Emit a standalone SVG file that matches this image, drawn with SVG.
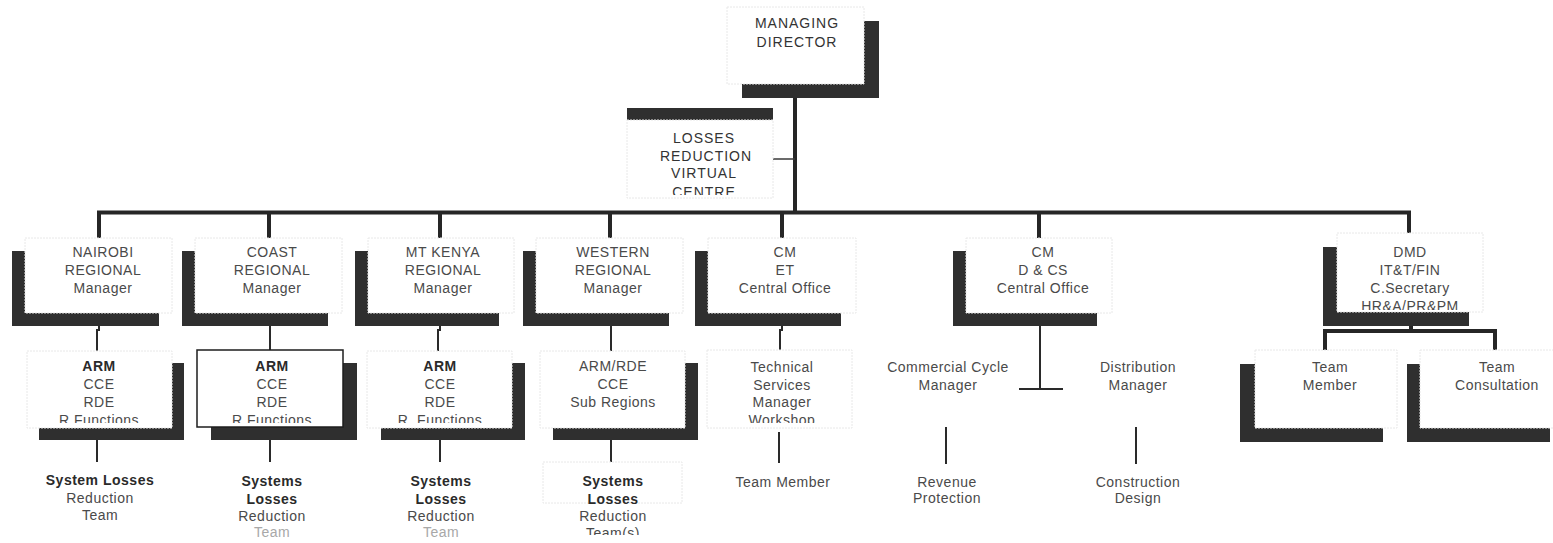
<svg xmlns="http://www.w3.org/2000/svg" width="1553" height="543" viewBox="0 0 1553 543">
  <defs>
    <style>
      .sh { fill: #2f2f2f; }
      .bx { fill: #ffffff; stroke: #e8e8e8; stroke-width: 1; stroke-dasharray: 2 1; }
      .bxs { fill: #ffffff; stroke: #1e1e1e; stroke-width: 1.5; }
      .t { font-family: "Liberation Sans", Arial, sans-serif; font-size: 14px; fill: #4a4a4a; text-anchor: middle; letter-spacing: 0.5px; }
      .tc { font-family: "Liberation Sans", Arial, sans-serif; font-size: 14px; fill: #333333; text-anchor: middle; letter-spacing: 1px; }
      .b { font-weight: bold; fill: #2a2a2a; }
      .fade { fill: #a8a8a8; }
      .thick { stroke: #262626; stroke-width: 4; fill: none; }
      .thin { stroke: #2a2a2a; stroke-width: 2; fill: none; }
      .hair { stroke: #3a3a3a; stroke-width: 1.5; fill: none; }
    </style>
    <clipPath id="clipLrvc"><rect x="600" y="100" width="200" height="95"/></clipPath>
    <clipPath id="clipLvl2"><rect x="0" y="340" width="1553" height="83"/></clipPath>
    <clipPath id="clipDmd"><rect x="1300" y="230" width="253" height="80"/></clipPath>
    <clipPath id="clipLvl3"><rect x="0" y="450" width="1553" height="85"/></clipPath>
  </defs>

  <rect width="1553" height="543" fill="#ffffff"/>

  <!-- connectors -->
  <g id="connectors">
    <!-- managing director trunk and main bus -->
    <line class="thick" x1="795" y1="97" x2="795" y2="214"/>
    <line class="hair" x1="773" y1="159" x2="795" y2="159"/>
    <line class="thick" x1="97" y1="212.5" x2="1411" y2="212.5"/>
    <line class="thick" x1="99" y1="211" x2="99" y2="238"/>
    <line class="thick" x1="269" y1="211" x2="269" y2="238"/>
    <line class="thick" x1="440" y1="211" x2="440" y2="238"/>
    <line class="thick" x1="610" y1="211" x2="610" y2="238"/>
    <line class="thick" x1="782" y1="211" x2="782" y2="238"/>
    <line class="thick" x1="1039" y1="211" x2="1039" y2="238"/>
    <line class="thick" x1="1409" y1="211" x2="1409" y2="233"/>
    <!-- regional managers to area managers -->
    <path class="thin" d="M99 326 V330 H97 V351"/>
    <line class="thin" x1="270" y1="326" x2="270" y2="350"/>
    <path class="thin" d="M440 326 V330 H438 V351"/>
    <line class="thin" x1="611" y1="326" x2="611" y2="351"/>
    <path class="thin" d="M782 326 V330 H780 V350"/>
    <!-- D &amp; CS split -->
    <line class="thin" x1="1040" y1="326" x2="1040" y2="389"/>
    <line class="thin" x1="1019" y1="389" x2="1063" y2="389"/>
    <!-- DMD split -->
    <line class="thick" x1="1411" y1="325" x2="1411" y2="333"/>
    <line class="thick" x1="1323" y1="331" x2="1497" y2="331"/>
    <line class="thick" x1="1325" y1="329" x2="1325" y2="350"/>
    <line class="thick" x1="1495" y1="329" x2="1495" y2="350"/>
    <!-- to teams -->
    <line class="thin" x1="97" y1="440" x2="97" y2="462"/>
    <line class="thin" x1="270" y1="440" x2="270" y2="462"/>
    <line class="thin" x1="440" y1="440" x2="440" y2="462"/>
    <line class="thin" x1="611" y1="440" x2="611" y2="462"/>
    <line class="thin" x1="779" y1="432" x2="779" y2="463"/>
    <line class="thin" x1="946" y1="427" x2="946" y2="464"/>
    <line class="thin" x1="1136" y1="427" x2="1136" y2="464"/>
  </g>

  <!-- top level -->
  <g id="managing-director">
    <rect class="sh" x="742" y="21" width="137" height="77"/>
    <rect class="bx" x="727" y="7" width="137" height="77"/>
    <text class="tc" x="797" y="28">MANAGING</text>
    <text class="tc" x="797" y="47">DIRECTOR</text>
  </g>

  <g id="losses-reduction-virtual-centre">
    <rect class="sh" x="627" y="108" width="146" height="78"/>
    <rect class="bx" x="627" y="120" width="146" height="78"/>
    <g clip-path="url(#clipLrvc)">
      <text class="tc" x="704" y="143">LOSSES</text>
      <text class="tc" x="706" y="161">REDUCTION</text>
      <text class="tc" x="704" y="178">VIRTUAL</text>
      <text class="tc" x="704" y="197">CENTRE</text>
    </g>
  </g>

  <!-- regional / central level -->
  <g id="nairobi-regional">
    <rect class="sh" x="12" y="251" width="147" height="75"/>
    <rect class="bx" x="25" y="238" width="147" height="75"/>
    <text class="t" x="103" y="257">NAIROBI</text>
    <text class="t" x="103" y="275">REGIONAL</text>
    <text class="t" x="103" y="293">Manager</text>
  </g>

  <g id="coast-regional">
    <rect class="sh" x="182" y="251" width="146" height="75"/>
    <rect class="bx" x="195" y="238" width="147" height="75"/>
    <text class="t" x="272" y="257">COAST</text>
    <text class="t" x="272" y="275">REGIONAL</text>
    <text class="t" x="272" y="293">Manager</text>
  </g>

  <g id="mt-kenya-regional">
    <rect class="sh" x="355" y="251" width="144" height="75"/>
    <rect class="bx" x="368" y="238" width="146" height="75"/>
    <text class="t" x="443" y="257">MT KENYA</text>
    <text class="t" x="443" y="275">REGIONAL</text>
    <text class="t" x="443" y="293">Manager</text>
  </g>

  <g id="western-regional">
    <rect class="sh" x="523" y="251" width="146" height="75"/>
    <rect class="bx" x="536" y="238" width="147" height="75"/>
    <text class="t" x="613" y="257">WESTERN</text>
    <text class="t" x="613" y="275">REGIONAL</text>
    <text class="t" x="613" y="293">Manager</text>
  </g>

  <g id="cm-et-central">
    <rect class="sh" x="695" y="251" width="146" height="75"/>
    <rect class="bx" x="708" y="238" width="148" height="75"/>
    <text class="t" x="785" y="257">CM</text>
    <text class="t" x="785" y="275">ET</text>
    <text class="t" x="785" y="293">Central Office</text>
  </g>

  <g id="cm-dcs-central">
    <rect class="sh" x="953" y="251" width="144" height="75"/>
    <rect class="bx" x="966" y="238" width="146" height="75"/>
    <text class="t" x="1043" y="257">CM</text>
    <text class="t" x="1043" y="275">D &amp; CS</text>
    <text class="t" x="1043" y="293">Central Office</text>
  </g>

  <g id="dmd">
    <rect class="sh" x="1323" y="247" width="146" height="79"/>
    <rect class="bx" x="1337" y="233" width="146" height="79"/>
    <g clip-path="url(#clipDmd)">
      <text class="t" x="1410" y="257">DMD</text>
      <text class="t" x="1410" y="275">IT&amp;T/FIN</text>
      <text class="t" x="1410" y="293">C.Secretary</text>
      <text class="t" x="1410" y="311">HR&amp;A/PR&amp;PM</text>
    </g>
  </g>

  <!-- area level -->
  <g id="nairobi-arm">
    <rect class="sh" x="39" y="363" width="145" height="77"/>
    <rect class="bx" x="27" y="351" width="145" height="77" stroke="none"/>
    <g clip-path="url(#clipLvl2)">
      <text class="t b" x="99" y="371">ARM</text>
      <text class="t" x="99" y="389">CCE</text>
      <text class="t" x="99" y="407">RDE</text>
      <text class="t" x="99" y="425">R Functions</text>
    </g>
  </g>

  <g id="coast-arm">
    <rect class="sh" x="211" y="363" width="146" height="77"/>
    <rect class="bxs" x="197" y="350" width="146" height="77"/>
    <g clip-path="url(#clipLvl2)">
      <text class="t b" x="272" y="371">ARM</text>
      <text class="t" x="272" y="389">CCE</text>
      <text class="t" x="272" y="407">RDE</text>
      <text class="t" x="272" y="425">R Functions</text>
    </g>
  </g>

  <g id="mt-kenya-arm">
    <rect class="sh" x="381" y="363" width="144" height="77"/>
    <rect class="bx" x="367" y="351" width="145" height="77"/>
    <g clip-path="url(#clipLvl2)">
      <text class="t b" x="440" y="371">ARM</text>
      <text class="t" x="440" y="389">CCE</text>
      <text class="t" x="440" y="407">RDE</text>
      <text class="t" x="440" y="425">R. Functions</text>
    </g>
  </g>

  <g id="western-arm">
    <rect class="sh" x="553" y="363" width="145" height="77"/>
    <rect class="bx" x="540" y="351" width="145" height="77"/>
    <text class="t" x="613" y="371">ARM/RDE</text>
    <text class="t" x="613" y="389">CCE</text>
    <text class="t" x="613" y="407">Sub Regions</text>
  </g>

  <g id="technical-services">
    <rect class="bx" x="707" y="350" width="145" height="78"/>
    <g clip-path="url(#clipLvl2)">
      <text class="t" x="782" y="372">Technical</text>
      <text class="t" x="782" y="390">Services</text>
      <text class="t" x="782" y="407">Manager</text>
      <text class="t" x="782" y="425">Workshop</text>
    </g>
  </g>

  <g id="commercial-cycle-manager">
    <text class="t" x="948" y="372">Commercial Cycle</text>
    <text class="t" x="948" y="390">Manager</text>
  </g>

  <g id="distribution-manager">
    <text class="t" x="1138" y="372">Distribution</text>
    <text class="t" x="1138" y="390">Manager</text>
  </g>

  <g id="team-member-dmd">
    <rect class="sh" x="1240" y="364" width="143" height="78"/>
    <rect class="bx" x="1255" y="350" width="142" height="78"/>
    <text class="t" x="1330" y="372">Team</text>
    <text class="t" x="1330" y="390">Member</text>
  </g>

  <g id="team-consultation">
    <rect class="sh" x="1407" y="364" width="143" height="78"/>
    <rect class="bx" x="1420" y="350" width="143" height="78"/>
    <text class="t" x="1497" y="372">Team</text>
    <text class="t" x="1497" y="390">Consultation</text>
  </g>

  <!-- team level -->
  <g id="nairobi-team">
    <text class="t b" x="100" y="485">System Losses</text>
    <text class="t" x="100" y="503">Reduction</text>
    <text class="t" x="100" y="520">Team</text>
  </g>

  <g id="coast-team">
    <text class="t b" x="272" y="486">Systems</text>
    <text class="t b" x="272" y="504">Losses</text>
    <text class="t" x="272" y="521">Reduction</text>
    <text class="t fade" x="272" y="537">Team</text>
  </g>

  <g id="mt-kenya-team">
    <text class="t b" x="441" y="486">Systems</text>
    <text class="t b" x="441" y="504">Losses</text>
    <text class="t" x="441" y="521">Reduction</text>
    <text class="t fade" x="441" y="537">Team</text>
  </g>

  <g id="western-team">
    <rect class="bx" x="543" y="462" width="139" height="41" stroke="#f0f0f0"/>
    <g clip-path="url(#clipLvl3)">
      <text class="t b" x="613" y="486">Systems</text>
      <text class="t b" x="613" y="504">Losses</text>
      <text class="t" x="613" y="521">Reduction</text>
      <text class="t" x="613" y="538">Team(s)</text>
    </g>
  </g>

  <g id="technical-team-member">
    <text class="t" x="783" y="487">Team Member</text>
  </g>

  <g id="revenue-protection">
    <text class="t" x="947" y="487">Revenue</text>
    <text class="t" x="947" y="503">Protection</text>
  </g>

  <g id="construction-design">
    <text class="t" x="1138" y="487">Construction</text>
    <text class="t" x="1138" y="503">Design</text>
  </g>
</svg>
